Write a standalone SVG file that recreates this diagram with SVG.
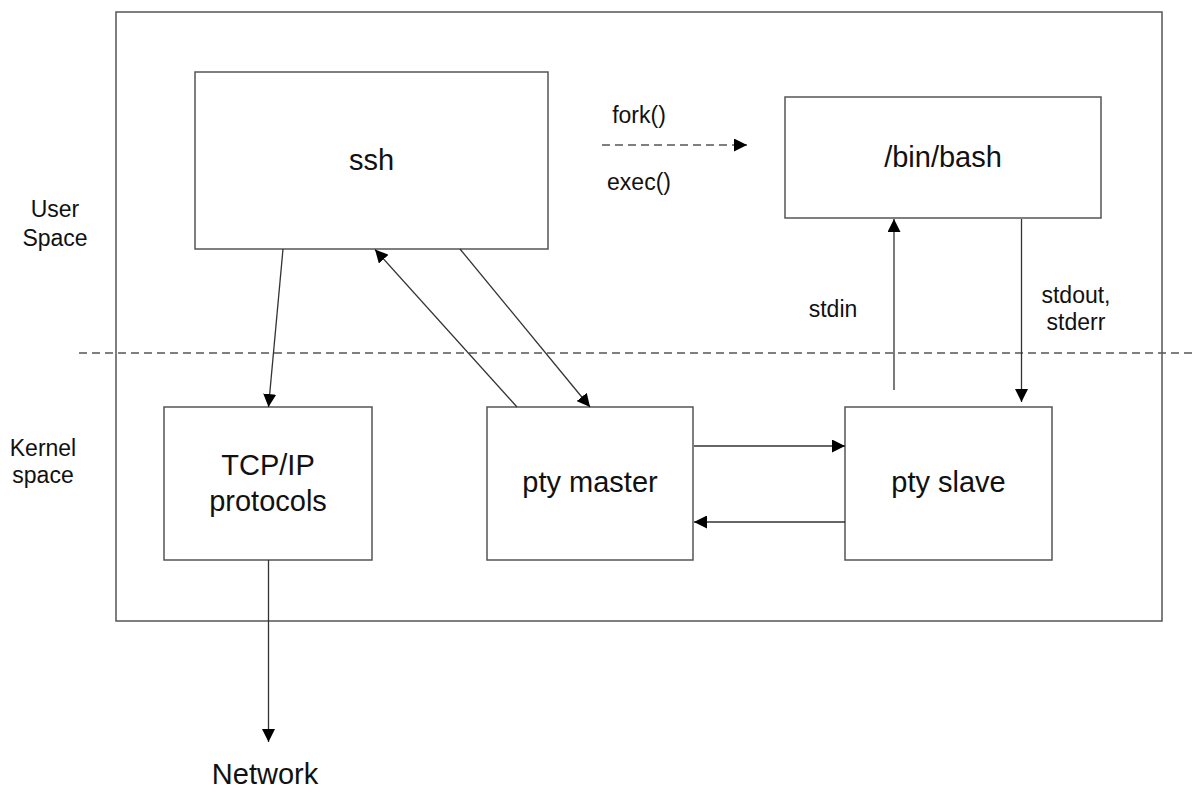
<svg xmlns="http://www.w3.org/2000/svg" width="1197" height="788" viewBox="0 0 1197 788">
  <style>
    .box { fill: #ffffff; stroke: #555555; stroke-width: 1.5; }
    .frame { fill: none; stroke: #555555; stroke-width: 1.5; }
    .divider { fill: none; stroke: #555555; stroke-width: 1.5; stroke-dasharray: 8 5; }
    .conn { fill: none; stroke: #333333; stroke-width: 1.3; marker-end: url(#arrow); }
    .dashed { stroke: #555555; stroke-width: 1.5; stroke-dasharray: 8 5; }
    .main { font-family: "Liberation Sans", Arial, sans-serif; font-size: 29px; fill: #111111; text-anchor: middle; }
    .small { font-family: "Liberation Sans", Arial, sans-serif; font-size: 23px; fill: #111111; text-anchor: middle; }
  </style>
  <defs>
    <marker id="arrow" markerUnits="userSpaceOnUse" markerWidth="13" markerHeight="13" viewBox="0 0 13 13" refX="13" refY="6.5" orient="auto">
      <path d="M0,0 L13,6.5 L0,13 z" fill="#000000"/>
    </marker>
  </defs>

  <rect width="1197" height="788" fill="#ffffff"/>

  <!-- system boundary and user/kernel split -->
  <rect class="frame" x="116" y="12" width="1046" height="609"/>
  <line class="divider" x1="79" y1="353" x2="1197" y2="353"/>

  <g id="label-user-space">
    <text class="small" x="55" y="217">User</text>
    <text class="small" x="55" y="246">Space</text>
  </g>
  <g id="label-kernel-space">
    <text class="small" x="43" y="456">Kernel</text>
    <text class="small" x="43" y="483">space</text>
  </g>

  <!-- processes and kernel objects -->
  <g id="node-ssh">
    <rect class="box" x="195" y="72" width="353" height="177"/>
    <text class="main" x="371.5" y="170">ssh</text>
  </g>
  <g id="node-bash">
    <rect class="box" x="785" y="97" width="316" height="121"/>
    <text class="main" x="943" y="167">/bin/bash</text>
  </g>
  <g id="node-tcpip">
    <rect class="box" x="164" y="407" width="208" height="153"/>
    <text class="main" x="268" y="475">TCP/IP</text>
    <text class="main" x="268" y="511">protocols</text>
  </g>
  <g id="node-pty-master">
    <rect class="box" x="487" y="407" width="206" height="153"/>
    <text class="main" x="590" y="492">pty master</text>
  </g>
  <g id="node-pty-slave">
    <rect class="box" x="845" y="407" width="207" height="153"/>
    <text class="main" x="948.5" y="492">pty slave</text>
  </g>
  <g id="node-network">
    <text class="main" x="265" y="784">Network</text>
  </g>

  <!-- data flow -->
  <g id="connectors">
    <line class="conn" x1="283" y1="249" x2="268.5" y2="407"/>
    <line class="conn" x1="517" y1="407" x2="375" y2="249.5"/>
    <line class="conn" x1="460" y1="249" x2="590" y2="407"/>
    <line class="conn dashed" x1="602" y1="145" x2="747" y2="145"/>
    <line class="conn" x1="894" y1="390" x2="894" y2="219"/>
    <line class="conn" x1="1021.5" y1="219" x2="1021.5" y2="402"/>
    <line class="conn" x1="694" y1="446" x2="845" y2="446"/>
    <line class="conn" x1="845" y1="522" x2="694" y2="522"/>
    <line class="conn" x1="268.5" y1="560" x2="268.5" y2="742"/>
    <text class="small" x="639" y="123">fork()</text>
    <text class="small" x="639" y="190">exec()</text>
    <text class="small" x="833" y="317">stdin</text>
    <text class="small" x="1076" y="303">stdout,</text>
    <text class="small" x="1076" y="330">stderr</text>
  </g>
</svg>
